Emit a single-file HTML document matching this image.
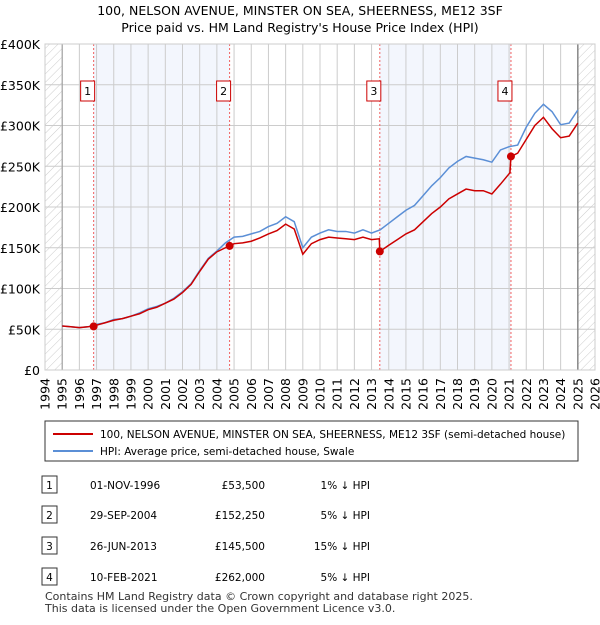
<!DOCTYPE html>
<html><head><meta charset="utf-8"><style>
body{margin:0;background:#fff;font-family:"Liberation Sans","DejaVu Sans",sans-serif;}
svg text{font-family:"DejaVu Sans","Liberation Sans",sans-serif;}
</style></head><body>
<svg id="c" width="600" height="620" xmlns="http://www.w3.org/2000/svg">
<defs><pattern id="hatch" width="6" height="6" patternUnits="userSpaceOnUse" patternTransform="rotate(45)"><line x1="0" y1="0" x2="0" y2="6" stroke="#ccc" stroke-width="1"/></pattern></defs>
<text x="300" y="15" text-anchor="middle" font-size="12.5">100, NELSON AVENUE, MINSTER ON SEA, SHEERNESS, ME12 3SF</text>
<text x="300" y="32" text-anchor="middle" font-size="12.5">Price paid vs. HM Land Registry's House Price Index (HPI)</text>
<g id="plot"></g>
<rect x="45" y="421" width="533" height="40" fill="#fff" stroke="#333"/>
<line x1="53" y1="434" x2="93" y2="434" stroke="#cc0000" stroke-width="2"/>
<text x="100" y="438" font-size="10.5">100, NELSON AVENUE, MINSTER ON SEA, SHEERNESS, ME12 3SF (semi-detached house)</text>
<line x1="53" y1="451" x2="93" y2="451" stroke="#5b8fd6" stroke-width="2"/>
<text x="100" y="455" font-size="10.5">HPI: Average price, semi-detached house, Swale</text>
<g id="tbl" font-size="10.5"></g>
<text x="45" y="600" font-size="11" fill="#333">Contains HM Land Registry data © Crown copyright and database right 2025.</text>
<text x="45" y="612" font-size="11" fill="#333">This data is licensed under the Open Government Licence v3.0.</text>
</svg>
<script>
const hpiDates=[1995,1995.5,1996,1996.5,1997,1997.5,1998,1998.5,1999,1999.5,2000,2000.5,2001,2001.5,2002,2002.5,2003,2003.5,2004,2004.5,2005,2005.5,2006,2006.5,2007,2007.5,2008,2008.5,2009,2009.5,2010,2010.5,2011,2011.5,2012,2012.5,2013,2013.5,2014,2014.5,2015,2015.5,2016,2016.5,2017,2017.5,2018,2018.5,2019,2019.5,2020,2020.5,2021,2021.5,2022,2022.5,2023,2023.5,2024,2024.5,2025];
const hpiValues=[54,53,52,53,56,58,62,63,66,70,75,78,82,88,96,106,122,137,146,156,163,164,167,170,176,180,188,182,150,163,168,172,170,170,168,172,168,172,180,188,196,202,214,226,236,248,256,262,260,258,255,270,274,276,298,315,326,317,301,303,319];
const priceDates=[1995,1995.5,1996,1996.5,1997,1997.5,1998,1998.5,1999,1999.5,2000,2000.5,2001,2001.5,2002,2002.5,2003,2003.5,2004,2004.5,2004.75,2005,2005.5,2006,2006.5,2007,2007.5,2008,2008.5,2009,2009.5,2010,2010.5,2011,2011.5,2012,2012.5,2013,2013.45,2013.48,2014,2014.5,2015,2015.5,2016,2016.5,2017,2017.5,2018,2018.5,2019,2019.5,2020,2020.5,2021.05,2021.11,2021.5,2022,2022.5,2023,2023.5,2024,2024.5,2025];
const priceValues=[54,53,52,53,55,58,61,63,66,69,74,77,82,87,95,105,121,136,145,150,152.25,155,156,158,162,167,171,179,173,142,155,160,163,162,161,160,163,160,161,145.5,153,160,167,172,182,192,200,210,216,222,220,220,216,228,242,262,266,283,300,310,296,285,287,303];
const saleDates=[1996.83,2004.74,2013.48,2021.11];
const saleValues=[53.5,152.25,145.5,262];
const saleLabels=["1","2","3","4"];
const saleDateText=["01-NOV-1996","29-SEP-2004","26-JUN-2013","10-FEB-2021"];
const salePriceText=["£53,500","£152,250","£145,500","£262,000"];
const saleHpiText=["1% ↓ HPI","5% ↓ HPI","15% ↓ HPI","5% ↓ HPI"];
const yTicks=[0,50,100,150,200,250,300,350,400];
const yTickLabels=["£0","£50K","£100K","£150K","£200K","£250K","£300K","£350K","£400K"];
const xYears=[1994,1995,1996,1997,1998,1999,2000,2001,2002,2003,2004,2005,2006,2007,2008,2009,2010,2011,2012,2013,2014,2015,2016,2017,2018,2019,2020,2021,2022,2023,2024,2025,2026];

const NS="http://www.w3.org/2000/svg";
const X0=45,X1=595,Y0=370,Y1=44;
const xs=y=>X0+(y-1994)/32*(X1-X0);
const ys=v=>Y0-v/400*(Y0-Y1);
const plot=document.getElementById('plot');
function mk(tag,attrs,parent){const e=document.createElementNS(NS,tag);for(const k in attrs)e.setAttribute(k,attrs[k]);(parent||plot).appendChild(e);return e;}
// shaded periods
for(let i=0;i<4;i+=2){const r=mk('rect',{x:xs(saleDates[i]),y:Y1,width:xs(saleDates[i+1])-xs(saleDates[i]),height:Y0-Y1,fill:'#f0f4fd',opacity:0.8});

}
// hatch
let h=mk('rect',{x:X0,y:Y1,width:xs(1995)-X0,height:Y0-Y1,fill:'url(#hatch)'});


h=mk('rect',{x:xs(2025),y:Y1,width:X1-xs(2025),height:Y0-Y1,fill:'url(#hatch)'});


// grid
xYears.forEach(y=>{const l=mk('line',{x1:xs(y),x2:xs(y),y1:Y1,y2:Y0,stroke:'#ccc','stroke-width':1});


const t=mk('text',{x:xs(y)+4.5,y:378,'text-anchor':'end','font-size':12.5,transform:`rotate(-90 ${xs(y)+4.5} 378)`});t.textContent=y;

});
yTicks.forEach((v,i)=>{const l=mk('line',{x1:X0,x2:X1,y1:ys(v),y2:ys(v),stroke:'#ccc','stroke-width':1});


const t=mk('text',{x:40,y:ys(v)+5,'text-anchor':'end','font-size':12.5});t.textContent=yTickLabels[i];

});
let ax=mk('line',{x1:xs(1995),x2:xs(1995),y1:Y1,y2:Y0,stroke:'#999','stroke-width':1});


ax=mk('line',{x1:xs(2025),x2:xs(2025),y1:Y1,y2:Y0,stroke:'#888','stroke-width':1.5});


// sale lines
saleDates.forEach((d,i)=>{const l=mk('line',{x1:xs(d),x2:xs(d),y1:Y1,y2:Y0,stroke:'#f06060','stroke-width':1,'stroke-dasharray':'2,2'});


const b=mk('rect',{x:xs(d)-13,y:81,width:14,height:20,fill:'#fff',stroke:'#cc0000'});


const t=mk('text',{x:xs(d)-6,y:95,'text-anchor':'middle','font-size':11});t.textContent=saleLabels[i];

});
// lines
const hp=mk('polyline',{points:hpiDates.map((d,i)=>xs(d)+','+ys(hpiValues[i])).join(' '),fill:'none',stroke:'#5b8fd6','stroke-width':1.5});


const pp=mk('polyline',{points:priceDates.map((d,i)=>xs(d)+','+ys(priceValues[i])).join(' '),fill:'none',stroke:'#cc0000','stroke-width':1.5});


saleDates.forEach((d,i)=>{const c=mk('circle',{cx:xs(d),cy:ys(saleValues[i]),r:4,fill:'#cc0000'});

});
const fr=mk('rect',{x:X0,y:Y1,width:X1-X0,height:Y0-Y1,fill:'none',stroke:'#ccc'});


// table
const tbl=document.getElementById('tbl');
const rowY=[488,518,549,580];
saleLabels.forEach((s,i)=>{const y=rowY[i];
const b=mk('rect',{x:42,y:y-12,width:15,height:17,fill:'#fff',stroke:'#333'},tbl);


const cells=[[49.5,'middle',s],[90,'start',saleDateText[i]],[265,'end',salePriceText[i]],[370,'end',saleHpiText[i]]];
cells.forEach(c=>{const t=mk('text',{x:c[0],y:y+1,'text-anchor':c[1]},tbl);t.textContent=c[2];

});});
</script>
</body></html>
